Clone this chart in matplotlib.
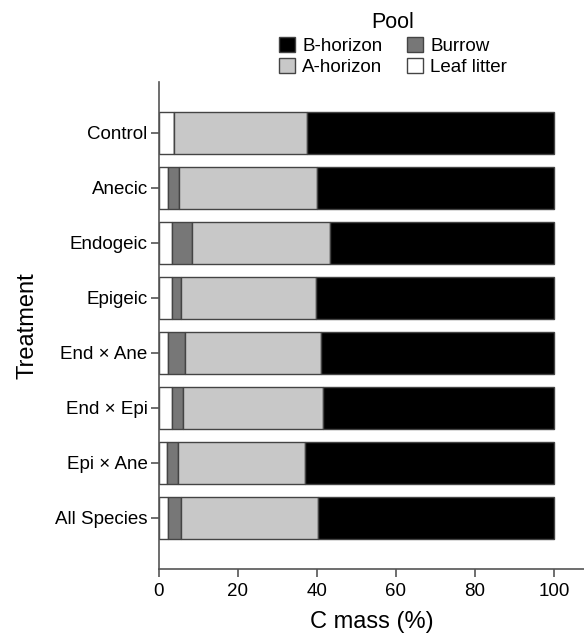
import matplotlib.pyplot as plt
from matplotlib.patches import Patch

plt.rcParams['font.family'] = ['Liberation Sans', 'DejaVu Sans']

treatments = ['Control', 'Anecic', 'Endogeic', 'Epigeic',
              'End \u00d7 Ane', 'End \u00d7 Epi', 'Epi \u00d7 Ane', 'All Species']
leaf_litter = [3.8, 2.4, 3.3, 3.3, 2.3, 3.4, 2.0, 2.4]
burrow = [0.0, 2.6, 5.0, 2.4, 4.2, 2.8, 2.8, 3.3]
a_horizon = [33.7, 34.9, 35.0, 34.0, 34.5, 35.3, 32.3, 34.6]
b_horizon = [100 - l - b - a for l, b, a in zip(leaf_litter, burrow, a_horizon)]

pools = ['Leaf litter', 'Burrow', 'A-horizon', 'B-horizon']
colors = {'Leaf litter': 'white', 'Burrow': '#777777',
          'A-horizon': '#c8c8c8', 'B-horizon': 'black'}
values = {'Leaf litter': leaf_litter, 'Burrow': burrow,
          'A-horizon': a_horizon, 'B-horizon': b_horizon}

fig = plt.figure(figsize=(5.84, 6.33), dpi=100)
ax = fig.add_axes([0.272, 0.101, 0.728, 0.769])

# stacked horizontal bars, one per treatment
y = list(range(len(treatments)))
left = [0.0] * len(treatments)
for p in pools:
    ax.barh(y, values[p], left=left, height=0.75, color=colors[p],
            edgecolor='#444444', linewidth=1.0)
    left = [l + v for l, v in zip(left, values[p])]

ax.set_ylim(7.93, -0.92)
ax.set_xlim(0, 107.6)
ax.set_yticks(y)
ax.set_yticklabels(treatments, fontsize=13.5)
ax.set_xticks([0, 20, 40, 60, 80, 100])
ax.tick_params(axis='x', labelsize=13.5, length=6, color='#555555', width=1.2, pad=4)
ax.tick_params(axis='y', length=6, color='#555555', width=1.2, pad=2)
for s in ['top', 'right']:
    ax.spines[s].set_visible(False)
for s in ['left', 'bottom']:
    ax.spines[s].set_color('#555555')
    ax.spines[s].set_linewidth(1.2)

ax.set_xlabel('C mass (%)', fontsize=17, labelpad=8)
ax.set_ylabel('Treatment', fontsize=17, labelpad=12)

order = ['B-horizon', 'A-horizon', 'Burrow', 'Leaf litter']
handles = [Patch(facecolor=colors[p], edgecolor='#444444', label=p) for p in order]
leg = fig.legend(handles=handles, ncol=2, title='Pool', frameon=False,
                 loc='upper center', bbox_to_anchor=(0.673, 1.005),
                 fontsize=13.5, title_fontsize=15.5, handlelength=0.85,
                 handleheight=0.85, handletextpad=0.4, columnspacing=1.3,
                 labelspacing=0.2, borderpad=0.3)

fig.savefig('out.png', dpi=100)
